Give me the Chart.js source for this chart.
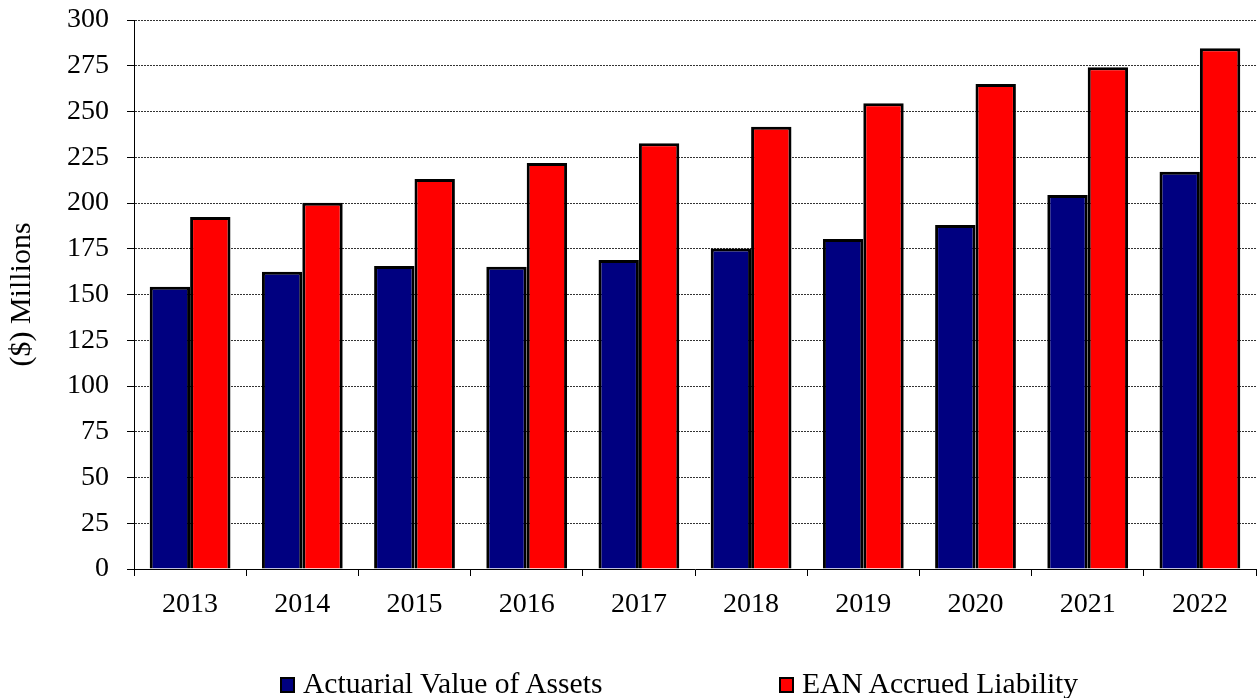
<!DOCTYPE html>
<html>
<head>
<meta charset="utf-8">
<script src="https://cdn.jsdelivr.net/npm/chart.js@4/dist/chart.umd.min.js"></script>
<style>
  html, body { margin: 0; padding: 0; background: #fff; }
  #wrap { position: relative; width: 1258px; height: 698px; }
  #c { position: absolute; left: 0; top: 0; }
  .leg { position: absolute; top: 668px; font-family: "Liberation Serif", "Times New Roman", serif; font-size: 29.6px; line-height: 30px; color: #000; white-space: nowrap; }
  .leg span.box { display: inline-block; width: 15px; height: 16px; border: 2px solid #000; box-sizing: border-box; margin-right: 8px; vertical-align: 0px; }
</style>
</head>
<body>
<div id="wrap">
  <canvas id="c" width="1258" height="698"></canvas>
  <div class="leg" id="leg1" style="left:280px"><span class="box" style="background:#000080"></span>Actuarial Value of Assets</div>
  <div class="leg" id="leg2" style="left:779px"><span class="box" style="background:#FF0000"></span>EAN Accrued Liability</div>
</div>
<script>
const categories = ['2013','2014','2015','2016','2017','2018','2019','2020','2021','2022'];
const assetValues = [154.2, 162.4, 165.6, 165.2, 168.9, 175.2, 180.3, 188.0, 204.4, 217.1];
const liabilityValues = [192.3, 200.1, 213.1, 221.9, 232.7, 241.6, 254.5, 265.0, 274.2, 284.5];
const seriesNames = ['Actuarial Value of Assets', 'EAN Accrued Liability'];
const yTicks = [0,25,50,75,100,125,150,175,200,225,250,275,300];

const FONT = "'Liberation Serif', 'Times New Roman', serif";

new Chart(document.getElementById('c'), {
  type: 'bar',
  data: {
    labels: categories,
    datasets: [
      { label: seriesNames[0], data: assetValues, backgroundColor: '#000080', borderColor: '#000', borderWidth: 3, borderSkipped: 'bottom' },
      { label: seriesNames[1], data: liabilityValues, backgroundColor: '#FF0000', borderColor: '#000', borderWidth: 3, borderSkipped: 'bottom' }
    ]
  },
  options: {
    responsive: false,
    animation: false,
    devicePixelRatio: 1,
    layout: { padding: { left: 0, right: 2, top: 20, bottom: 0 } },
    datasets: { bar: { categoryPercentage: 0.72, barPercentage: 1.0 } },
    plugins: { legend: { display: false }, tooltip: { enabled: false } },
    scales: {
      x: {
        grid: { display: true, drawOnChartArea: false, drawTicks: true, tickLength: 7, color: '#000', offset: true },
        border: { display: true, color: '#000', width: 1 },
        ticks: { color: '#000', font: { family: FONT, size: 28 }, padding: 12, maxRotation: 0 },
        afterFit: (s) => { s.height = 129; s.paddingLeft = 0; s.paddingRight = 0; }
      },
      y: {
        min: 0, max: 300,
        afterBuildTicks: (s) => { s.ticks = yTicks.map(v => ({ value: v })); },
        grid: { color: '#333', lineWidth: 1, tickLength: 7, tickColor: '#000', tickBorderDash: [] },
        border: { display: true, color: '#000', width: 1, dash: [2, 1] },
        ticks: { color: '#000', font: { family: FONT, size: 28 }, padding: 18 },
        title: { display: true, text: '($) Millions', color: '#000', font: { family: FONT, size: 30 }, padding: { top: 4, bottom: 0 } },
        afterFit: (s) => { s.width = 134; s.paddingTop = 0; s.paddingBottom = 0; }
      }
    }
  }
});
</script>
</body>
</html>
